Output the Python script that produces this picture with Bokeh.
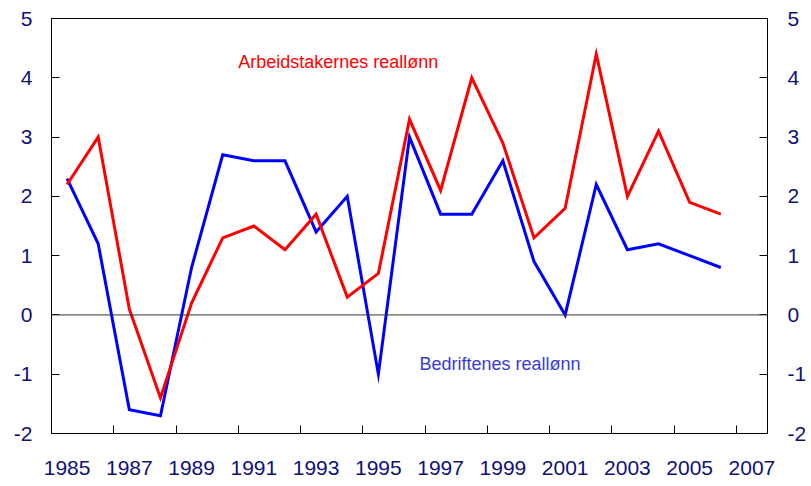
from bokeh.plotting import figure
from bokeh.models import Range1d, LinearAxis, FixedTicker, Span, Label
from bokeh.embed import file_html
from bokeh.resources import INLINE

# ---- data ----
years = list(range(1985, 2007))
arbeidstakernes = [2.2, 3.0, 0.1, -1.4, 0.2, 1.3, 1.5, 1.1, 1.7, 0.3, 0.7,
                   3.3, 2.1, 4.0, 2.9, 1.3, 1.8, 4.4, 2.0, 3.1, 1.9, 1.7]
bedriftenes = [2.3, 1.2, -1.6, -1.7, 0.8, 2.7, 2.6, 2.6, 1.4, 2.0, -1.0,
               3.0, 1.7, 1.7, 2.6, 0.9, 0.0, 2.2, 1.1, 1.2, 1.0, 0.8]
x_tick_labels = list(range(1985, 2008, 2))
y_ticks = list(range(-2, 6))
label_red = "Arbeidstakernes reallønn"
label_blue = "Bedriftenes reallønn"

FONT = "Liberation Sans"
NAVY = "#10107a"

x_start = x_tick_labels[0] - 0.5
x_end = x_tick_labels[-1] + 0.5
minor = [v + 1.5 for v in x_tick_labels[:-1]]

p = figure(width=811, height=486, output_backend="svg", toolbar_location=None,
           x_range=Range1d(x_start, x_end), y_range=Range1d(y_ticks[0], y_ticks[-1]),
           min_border_left=51, min_border_right=44, min_border_top=18, min_border_bottom=53)
p.xgrid.visible = False
p.ygrid.visible = False
p.outline_line_color = "black"
p.outline_line_width = 1
p.background_fill_color = "white"
p.border_fill_color = "white"

# bottom axis
xa = p.xaxis[0]
xa.ticker = FixedTicker(ticks=x_tick_labels, minor_ticks=minor)
xa.major_tick_in = 0
xa.major_tick_out = 0
xa.minor_tick_in = 8
xa.minor_tick_out = 0
xa.minor_tick_line_color = "black"
xa.axis_line_color = "black"
xa.major_label_standoff = 27
xa.major_label_text_font = FONT
xa.major_label_text_font_size = "21px"
xa.major_label_text_color = NAVY


def style_y(ax, standoff):
    ax.ticker = FixedTicker(ticks=y_ticks)
    ax.major_label_overrides = {v: str(v) for v in y_ticks}
    ax.major_tick_in = 8
    ax.major_tick_out = 0
    ax.minor_tick_in = 0
    ax.minor_tick_out = 0
    ax.major_tick_line_color = "black"
    ax.axis_line_color = "black"
    ax.major_label_standoff = standoff
    ax.major_label_text_font = FONT
    ax.major_label_text_font_size = "21px"
    ax.major_label_text_color = NAVY


style_y(p.yaxis[0], 19)
ra = LinearAxis()
style_y(ra, 20)
p.add_layout(ra, "right")

# zero line
p.add_layout(Span(location=0, dimension="width", line_color="#333333", line_width=1))

# series
p.line(years, bedriftenes, line_color="#0000ff", line_width=3, line_join="miter")
p.line(years, arbeidstakernes, line_color="#ff0000", line_width=3, line_join="miter")

p.add_layout(Label(x=1990.5, y=4.27, text=label_red, text_font=FONT,
                   text_font_size="18px", text_color="#ff0000",
                   text_baseline="middle", text_align="left"))
p.add_layout(Label(x=1996.32, y=-0.82, text=label_blue, text_font=FONT,
                   text_font_size="18px", text_color="#3a3ad8",
                   text_baseline="middle", text_align="left"))

open("out.html", "w").write(file_html(p, INLINE))
